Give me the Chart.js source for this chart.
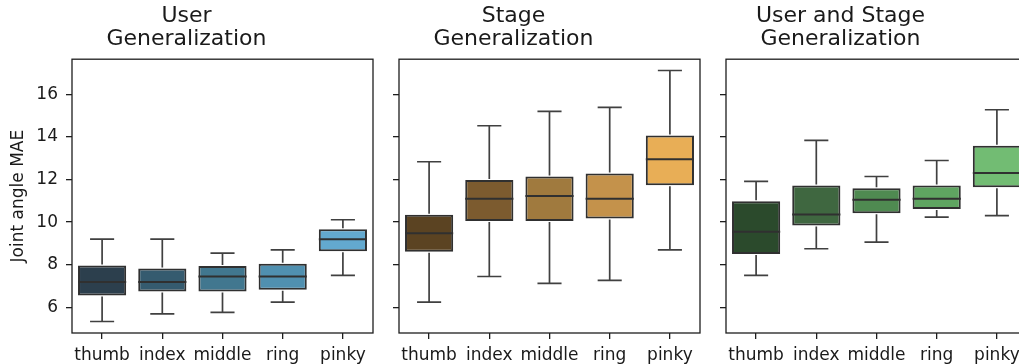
<!DOCTYPE html>
<html>
<head>
<meta charset="utf-8">
<script src="https://cdn.jsdelivr.net/npm/chart.js@4.4.1/dist/chart.umd.min.js"></script>
<style>
  html, body { margin: 0; padding: 0; background: #fff; }
  #wrap { position: relative; width: 1019px; height: 364px; overflow: hidden; }
  #wrap canvas { position: absolute; top: 0; }
</style>
</head>
<body>
<div id="wrap">
  <canvas id="userChart"></canvas>
  <canvas id="stageChart"></canvas>
  <canvas id="bothChart"></canvas>
</div>
<script>
const fingers = ['thumb', 'index', 'middle', 'ring', 'pinky']
const yTicks = [6, 8, 10, 12, 14, 16]

// User generalization
const userMin = [5.34, 5.70, 5.77, 6.25, 7.50]
const userQ1 = [6.56, 6.75, 6.75, 6.83, 8.63]
const userMed = [7.19, 7.19, 7.45, 7.45, 9.20]
const userQ3 = [7.97, 7.83, 7.94, 8.05, 9.67]
const userMax = [9.20, 9.20, 8.55, 8.70, 10.11]

// Stage generalization
const stageMin = [6.25, 7.45, 7.13, 7.27, 8.70]
const stageQ1 = [8.61, 10.05, 10.05, 10.17, 11.73]
const stageMed = [9.48, 11.09, 11.22, 11.09, 12.95]
const stageQ3 = [10.34, 11.97, 12.14, 12.28, 14.06]
const stageMax = [12.83, 14.52, 15.19, 15.38, 17.11]

// User and stage generalization
const bothMin = [7.50, 8.75, 9.06, 10.23, 10.30]
const bothQ1 = [8.50, 9.84, 10.42, 10.61, 11.64]
const bothMed = [9.55, 10.36, 11.05, 11.09, 12.30]
const bothQ3 = [10.98, 11.72, 11.59, 11.72, 13.58]
const bothMax = [11.91, 13.83, 12.14, 12.89, 15.27]

const blues = ['#2c3f4d', '#355b6f', '#41778f', '#5090b0', '#63a9cf']
const browns = ['#5b4322', '#7c5b2f', '#a07a3e', '#c4924b', '#e8ae56']
const greens = ['#2b4a2c', '#3f6740', '#4f8a51', '#5fa561', '#72bc73']

const edgeColor = '#303030'
const whiskerColor = '#404040'
const axisColor = '#1e1e1e'
const fontFamily = '"DejaVu Sans", sans-serif'

// whiskers, caps and medians, placed through the chart's own scales
const boxExtras = {
    id: 'boxExtras',
    afterDatasetsDraw(chart) {
        const ctx = chart.ctx
        const ds = chart.data.datasets[0]
        const meta = chart.getDatasetMeta(0)
        const x = chart.scales.x
        const y = chart.scales.y
        ctx.save()
        meta.data.forEach((bar, i) => {
            const cx = x.getPixelForValue(i)
            const half = bar.width / 2
            const cap = bar.width / 4
            const [q1, q3] = ds.data[i]
            const top = y.getPixelForValue(ds.maxs[i])
            const bottom = y.getPixelForValue(ds.mins[i])
            ctx.strokeStyle = whiskerColor
            ctx.lineWidth = 1.7
            ctx.beginPath()
            ctx.moveTo(cx, y.getPixelForValue(q3) - 1)
            ctx.lineTo(cx, top)
            ctx.moveTo(cx - cap, top)
            ctx.lineTo(cx + cap, top)
            ctx.moveTo(cx, y.getPixelForValue(q1) + 1)
            ctx.lineTo(cx, bottom)
            ctx.moveTo(cx - cap, bottom)
            ctx.lineTo(cx + cap, bottom)
            ctx.stroke()
            ctx.strokeStyle = edgeColor
            ctx.lineWidth = 2
            ctx.beginPath()
            ctx.moveTo(cx - half, y.getPixelForValue(ds.medians[i]))
            ctx.lineTo(cx + half, y.getPixelForValue(ds.medians[i]))
            ctx.stroke()
        })
        ctx.restore()
    }
}

// full frame round the plot area
const frame = {
    id: 'frame',
    afterDraw(chart) {
        const { left, top, right, bottom } = chart.chartArea
        const ctx = chart.ctx
        ctx.save()
        ctx.strokeStyle = axisColor
        ctx.lineWidth = 1.3
        ctx.strokeRect(left, top, right - left, bottom - top)
        ctx.restore()
    }
}

function makePanel(id, left, title, mins, q1s, meds, q3s, maxs, colors, showLabels) {
    const canvas = document.getElementById(id)
    canvas.width = 445
    canvas.height = 364
    canvas.style.width = '445px'
    canvas.style.height = '364px'
    canvas.style.left = left + 'px'

    return new Chart(canvas, {
        type: 'bar',
        data: {
            labels: fingers,
            datasets: [{
                data: q1s.map((q, i) => [q, q3s[i]]),
                mins: mins,
                medians: meds,
                maxs: maxs,
                backgroundColor: colors,
                borderColor: edgeColor,
                borderWidth: 2,
                borderSkipped: false,
                categoryPercentage: 0.8,
                barPercentage: 1.0
            }]
        },
        options: {
            responsive: false,
            animation: false,
            layout: { padding: { left: 0, right: 72, top: 0, bottom: 0 } },
            plugins: {
                legend: { display: false },
                tooltip: { enabled: false },
                title: {
                    display: true,
                    text: title,
                    color: '#1a1a1a',
                    font: { family: fontFamily, size: 22, weight: 'normal', lineHeight: 1.05 },
                    padding: { top: 5, bottom: 8 }
                }
            },
            scales: {
                x: {
                    border: { display: false },
                    grid: { display: true, drawOnChartArea: false, drawTicks: true, tickLength: 6, offset: false, tickColor: axisColor, lineWidth: 1.3 },
                    ticks: { color: '#1a1a1a', font: { family: fontFamily, size: 17 }, padding: 6, maxRotation: 0, autoSkip: false },
                    afterFit(scale) { scale.height = 31 }
                },
                y: {
                    min: 4.8,
                    max: 17.64,
                    border: { display: false },
                    grid: { display: true, drawOnChartArea: false, drawTicks: true, tickLength: 6, tickColor: axisColor, lineWidth: 1.3 },
                    ticks: { display: showLabels, color: '#1a1a1a', font: { family: fontFamily, size: 17 }, padding: 8 },
                    title: {
                        display: showLabels,
                        text: 'Joint angle MAE',
                        color: '#1a1a1a',
                        font: { family: fontFamily, size: 17 },
                        padding: { top: 8, bottom: 0 }
                    },
                    afterBuildTicks(scale) { scale.ticks = yTicks.map(v => ({ value: v })) },
                    afterFit(scale) { scale.width = 72 }
                }
            }
        },
        plugins: [boxExtras, frame]
    })
}

makePanel('userChart', 0, ['User', 'Generalization'], userMin, userQ1, userMed, userQ3, userMax, blues, true)
makePanel('stageChart', 327, ['Stage', 'Generalization'], stageMin, stageQ1, stageMed, stageQ3, stageMax, browns, false)
makePanel('bothChart', 654, ['User and Stage', 'Generalization'], bothMin, bothQ1, bothMed, bothQ3, bothMax, greens, false)
</script>
</body>
</html>
